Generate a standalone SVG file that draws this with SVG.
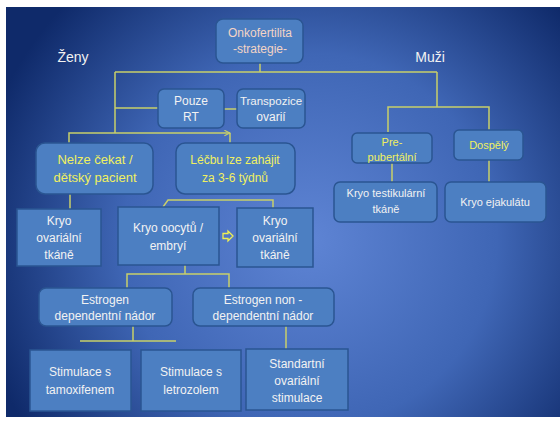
<svg xmlns="http://www.w3.org/2000/svg" width="560" height="421" viewBox="0 0 560 421">
<defs>
<radialGradient id="bg" cx="310" cy="240" r="340" gradientUnits="userSpaceOnUse">
<stop offset="0" stop-color="#5e84d4"/>
<stop offset="0.55" stop-color="#3f66b5"/>
<stop offset="1" stop-color="#0f2a6a"/>
</radialGradient>
<marker id="arr" viewBox="0 0 10 10" refX="9" refY="5" markerWidth="7" markerHeight="7" orient="auto" markerUnits="userSpaceOnUse">
<path d="M1,1 L9,5 L1,9" fill="none" stroke="#c8cf6a" stroke-width="1.5"/>
</marker>
</defs>
<style>
.box{fill:#4c7fc2;stroke:#2a5592;stroke-width:1.5}
.ln{fill:none;stroke:#c8cf6a;stroke-width:1.5}
text{font-family:"Liberation Sans","Open Sans",sans-serif;font-size:12px;text-anchor:middle}
.w{fill:#f2f2f2}
.y{fill:#f0f060}
.p{fill:#f3d4c6}
</style>
<rect x="0" y="0" width="560" height="421" fill="#ffffff"/>
<rect x="6" y="7" width="554" height="410" fill="url(#bg)"/>

<g id="connectors">
<path class="ln" d="M260,63 V72 M115,72 H437 M115,72 V133 M115,108 H158 M224,109 H237"/>
<path class="ln" d="M69,143 V133 H230" marker-end="url(#arr)"/>
<path class="ln" d="M230,133 V143"/>
<path class="ln" d="M70,194 V209"/>
<path class="ln" d="M163,207 L168,200 H273 V208"/>
<path class="ln" d="M185,265 V274 M127,288 V274 H229 V288"/>
<path class="ln" d="M133,326 V341 M80,341 H176"/>
<path class="ln" d="M286,326 V350"/>
<path class="ln" d="M437,72 V107 M388,132 V107 H489 V130"/>
<path class="ln" d="M392,163 V182 M489,160 V182"/>
<path d="M223,233.5 H228 V231 L233,236 L228,241 V238.5 H223 Z" fill="none" stroke="#f0f050" stroke-width="1.3"/>
</g>

<text class="w" x="73" y="62" style="font-size:14px">Ženy</text>
<text class="w" x="430" y="62" style="font-size:14px">Muži</text>

<g id="root">
<rect class="box" x="216" y="19" width="87" height="44" rx="7"/>
<text class="p" x="260" y="37">Onkofertilita</text>
<text class="p" x="260" y="53">-strategie-</text>
</g>

<g id="pouze">
<rect class="box" x="158" y="89" width="66" height="39" rx="6"/>
<text class="w" x="191" y="105">Pouze</text>
<text class="w" x="191" y="121">RT</text>
</g>

<g id="transpozice">
<rect class="box" x="237" y="89" width="68" height="39" rx="6"/>
<text class="w" x="271" y="105" style="font-size:11.5px">Transpozice</text>
<text class="w" x="271" y="121">ovarií</text>
</g>

<g id="nelze">
<rect class="box" x="36" y="143" width="117" height="51" rx="9"/>
<text class="y" x="95" y="164" style="font-size:13px">Nelze čekat /</text>
<text class="y" x="95" y="182" style="font-size:13px">dětský pacient</text>
</g>

<g id="lecbu">
<rect class="box" x="176" y="143" width="119" height="51" rx="9"/>
<text class="y" x="235" y="164">Léčbu lze zahájit</text>
<text class="y" x="235" y="182">za 3-6 týdnů</text>
</g>

<g id="kryo-ovar-left">
<rect class="box" x="17" y="209" width="84" height="57"/>
<text class="w" x="59" y="225">Kryo</text>
<text class="w" x="59" y="242">ovariální</text>
<text class="w" x="59" y="259">tkáně</text>
</g>

<g id="kryo-oocytu">
<rect class="box" x="118" y="207" width="101" height="58"/>
<text class="w" x="168" y="232">Kryo oocytů /</text>
<text class="w" x="168" y="250">embryí</text>
</g>

<g id="kryo-ovar-right">
<rect class="box" x="237" y="208" width="76" height="59"/>
<text class="w" x="275" y="225">Kryo</text>
<text class="w" x="275" y="242">ovariální</text>
<text class="w" x="275" y="259">tkáně</text>
</g>

<g id="estrogen-dep">
<rect class="box" x="39" y="288" width="133" height="38" rx="7"/>
<text class="w" x="105" y="304">Estrogen</text>
<text class="w" x="105" y="320">dependentní nádor</text>
</g>

<g id="estrogen-nondep">
<rect class="box" x="193" y="288" width="141" height="38" rx="7"/>
<text class="w" x="263" y="304">Estrogen non -</text>
<text class="w" x="263" y="320">dependentní nádor</text>
</g>

<g id="tamoxifen">
<rect class="box" x="30" y="350" width="101" height="61"/>
<text class="w" x="80" y="376">Stimulace s</text>
<text class="w" x="80" y="394">tamoxifenem</text>
</g>

<g id="letrozol">
<rect class="box" x="141" y="350" width="100" height="61"/>
<text class="w" x="191" y="376">Stimulace s</text>
<text class="w" x="191" y="394">letrozolem</text>
</g>

<g id="standartni">
<rect class="box" x="246" y="349" width="102" height="61"/>
<text class="w" x="297" y="368">Standartní</text>
<text class="w" x="297" y="385">ovariální</text>
<text class="w" x="297" y="402">stimulace</text>
</g>

<g id="pre">
<rect class="box" x="352" y="133" width="80" height="30" rx="5"/>
<text class="y" x="392" y="146" style="font-size:11px">Pre-</text>
<text class="y" x="392" y="161" style="font-size:11px">pubertální</text>
</g>

<g id="dospely">
<rect class="box" x="454" y="130" width="69" height="30" rx="5"/>
<text class="y" x="489" y="149" style="font-size:11px">Dospělý</text>
</g>

<g id="kryo-testik">
<rect class="box" x="334" y="182" width="103" height="40" rx="6"/>
<text class="w" x="386" y="197" style="font-size:11px">Kryo  testikulární</text>
<text class="w" x="386" y="213" style="font-size:11px">tkáně</text>
</g>

<g id="kryo-ejak">
<rect class="box" x="445" y="182" width="101" height="40" rx="6"/>
<text class="w" x="495" y="206" style="font-size:11px">Kryo ejakulátu</text>
</g>
</svg>
